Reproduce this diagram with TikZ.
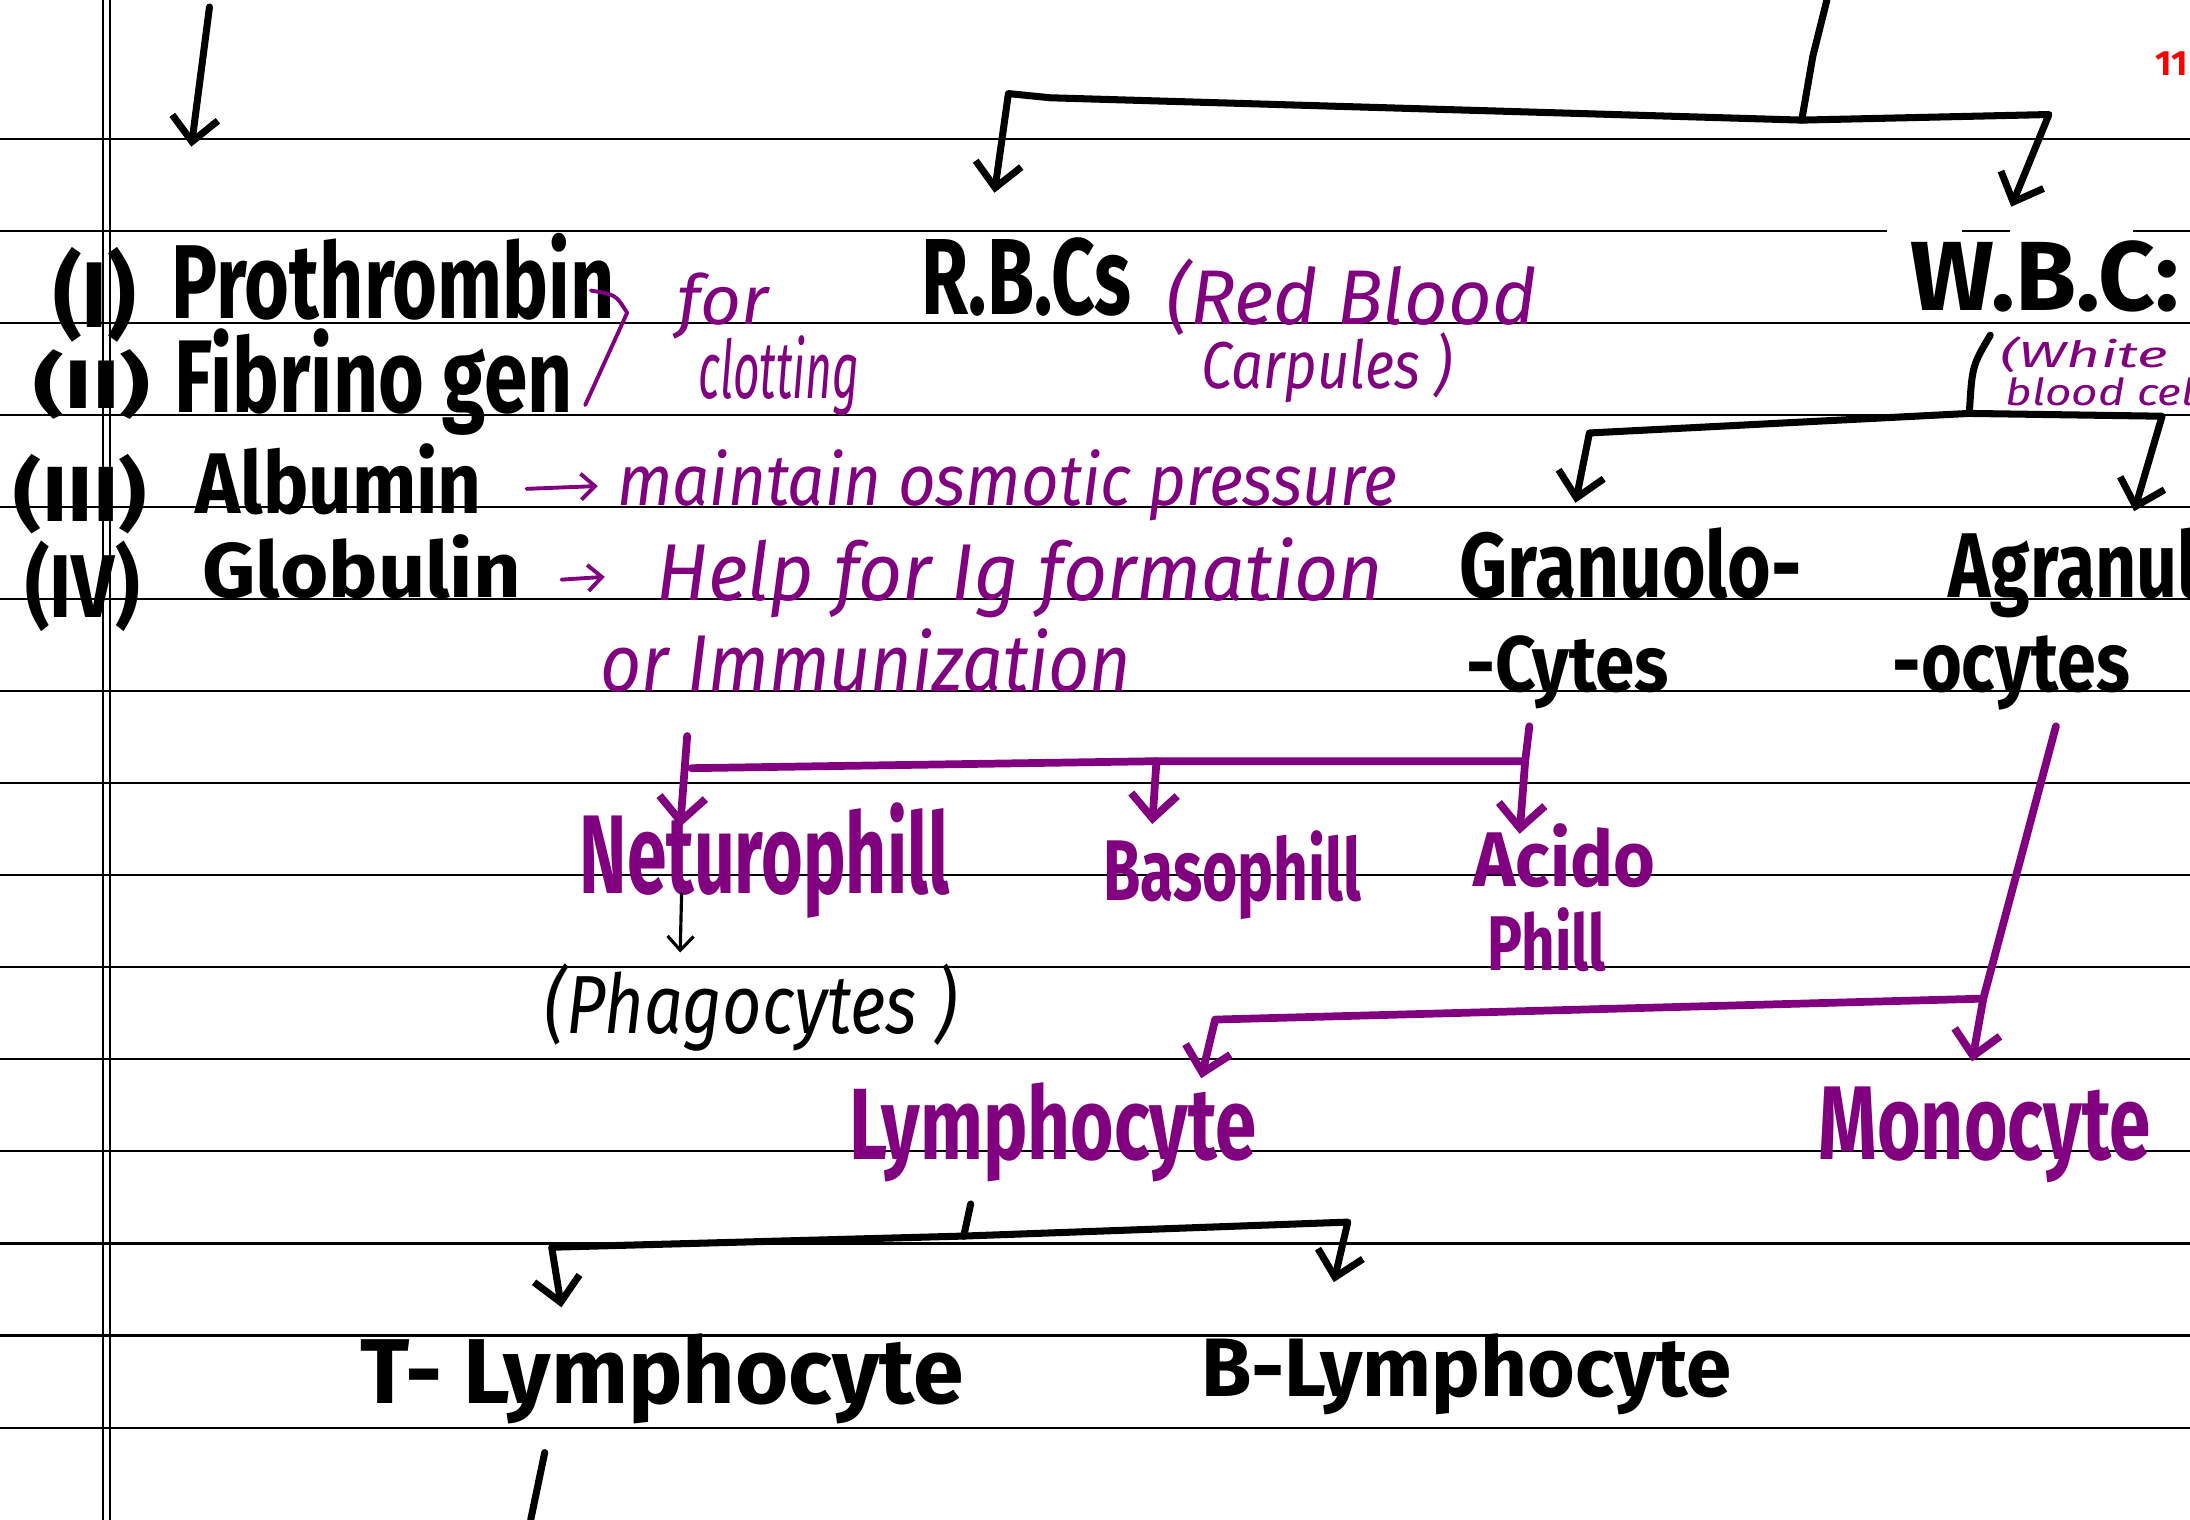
\documentclass[tikz,border=0pt]{standalone}
\usepackage{fontspec}
\setmainfont{Fira Sans}
\usetikzlibrary{arrows.meta}
\definecolor{pen}{RGB}{128,0,128}
\definecolor{pagenum}{RGB}{255,0,0}
% one unit of the drawing grid
\newlength\sx
\setlength\sx{0.013967cm}
% word squeezed to width #1 and height #2 above the baseline (grid units)
\newcommand\hw[3]{\resizebox{#1\sx}{#2\sx}{#3}}
% word squeezed to width #1 and total height #2 (grid units)
\newcommand\hwt[3]{\resizebox*{#1\sx}{#2\sx}{#3}}

\begin{document}
\begin{tikzpicture}[x=0.013967cm,y=-0.013967cm,
  rule/.style={line width=0.6pt,black},
  inkline/.style={line width=2pt,line cap=round,line join=round,black},
  penline/.style={line width=2.2pt,line cap=round,line join=round,pen},
  thinpen/.style={line width=0.9pt,line cap=round,line join=round,pen},
  thinink/.style={line width=0.9pt,line cap=round,line join=round,black},
  headed/.style={-{Straight Barb[length=2.4mm,width=4.6mm]}},
  smallhead/.style={-{Straight Barb[length=1.4mm,width=2.6mm]}},
  word/.style={anchor=base west,inner sep=0pt,outer sep=0pt},
  paren/.style={anchor=north west,inner sep=0pt,outer sep=0pt,font=\bfseries,text=black},
  bigink/.style={word,font=\bfseries,text=black},
  bigpen/.style={word,font=\bfseries,text=pen},
  notepen/.style={word,font=\itshape,text=pen},
  noteink/.style={word,font=\itshape,text=black}]

% page
\fill[white] (0,0) rectangle (1568,1088);
\useasboundingbox (0,0) rectangle (1568,1088);

% ruled lines
\foreach \k in {0,2,3,...,14}
  \draw[rule] (0,{99.5+65.9*\k}) -- (1568,{99.5+65.9*\k});
\draw[rule] (0,165.4) -- (1351,165.4);
\draw[rule] (1405,165.4) -- (1439,165.4);
\draw[rule] (1527,165.4) -- (1568,165.4);
% margin
\draw[rule] (74,0) -- (74,1088);
\draw[rule] (78.5,0) -- (78.5,1088);

% page number
\node[anchor=base east,inner sep=0pt,font=\bfseries,text=pagenum] (pg) at (1567,54) {\hw{23}{17}{11}};

% plasma proteins
\node[paren] (p1) at (38,177) {\hwt{60}{68}{(I)}};
\node[bigink] (pro) at (123,228) {\hw{317}{61}{Prothrombin}};
\node[paren] (p2) at (24,250) {\hwt{84}{50}{(II)}};
\node[bigink] (fib) at (125,295) {\hw{285}{60}{Fibrino gen}};
\node[paren] (p3) at (10,325) {\hwt{95}{57}{(III)}};
\node[bigink] (alb) at (140,368) {\hw{205}{50}{Albumin}};
\node[paren] (p4) at (18,387) {\hwt{82}{65}{(IV)}};
\node[bigink] (glo) at (145,428) {\hw{228}{45}{Globulin}};

% notes on the proteins
\coordinate (br1) at (423,208);
\coordinate (br2) at (449,224);
\coordinate (br3) at (419,290);
\draw[thinpen,line width=1.1pt] (br1) .. controls (441,211) .. (br2) -- (br3);
\node[notepen] (for) at (485,232) {\hw{65}{37}{for}};
\node[notepen] (clot) at (500,285) {\hw{115}{45}{clotting}};

\coordinate (m0) at (377,350);
\coordinate (m1) at (428,348);
\node[notepen] (osm) at (442,362) {\hw{558}{40}{maintain osmotic pressure}};
\draw[thinpen,line width=1.1pt,smallhead] (m0) -- (m1);

\coordinate (h0) at (402,415);
\coordinate (h1) at (433,413);
\node[notepen] (ig) at (470,430) {\hw{520}{45}{Help for Ig formation}};
\draw[thinpen,line width=1.1pt,smallhead] (h0) -- (h1);
\node[notepen] (imm) at (430,495) {\hw{380}{45}{or Immunization}};

% top arrow at the left
\coordinate (tl0) at (150,5);
\coordinate (tl1) at (137,105);
\draw[inkline,headed] (tl0) -- (tl1);

% blood cells
\node[bigink] (rbc) at (660,225) {\hw{150}{55}{R.B.Cs}};
\node[notepen] (red) at (835,232) {\hw{265}{47}{(Red Blood}};
\node[notepen] (carp) at (860,278) {\hw{180}{40}{Carpules )}};
\node[bigink] (wbc) at (1368,222) {\hw{192}{50}{W.B.C:}};
\node[notepen] (white) at (1432,263) {\hw{120}{22}{(White}};
\node[notepen] (cells) at (1436,290) {\hw{160}{20}{blood cells}};

\coordinate (top0) at (1308,0);
\coordinate (jt) at (1290,86);
\coordinate (rbcL) at (722,67);
\coordinate (rbcK) at (752,70);
\coordinate (wbcR) at (1467,82);
\coordinate (rbcTip) at (712,138);
\coordinate (wbcTip) at (1440,148);
\draw[inkline] (top0) -- (1298,40) -- (jt);
\draw[inkline,headed] (jt) -- (rbcK) -- (rbcL) -- (rbcTip);
\draw[inkline,headed] (jt) -- (wbcR) -- (wbcTip);

% white cell groups
\node[bigink] (gra) at (1045,428) {\hw{245}{50}{Granuolo-}};
\node[bigink] (gra2) at (1050,495) {\hw{145}{40}{-Cytes}};
\node[bigink] (agr) at (1395,428) {\hw{230}{50}{Agranulo-}};
\node[bigink] (agr2) at (1355,495) {\hw{170}{40}{-ocytes}};

\coordinate (w0) at (1425,240);
\coordinate (jw) at (1410,296);
\coordinate (gL) at (1138,310);
\coordinate (aR) at (1548,298);
\coordinate (gTip) at (1128,360);
\coordinate (aTip) at (1528,366);
\draw[inkline] (w0) .. controls (1412,262) .. (jw);
\draw[inkline,headed] (jw) -- (gL) -- (gTip);
\draw[inkline,headed] (jw) -- (aR) -- (aTip);

% granulocytes
\node[bigpen] (neu) at (415,640) {\hw{265}{65}{Neturophill}};
\node[bigpen] (bas) at (790,645) {\hw{185}{50}{Basophill}};
\node[bigpen] (aci) at (1055,635) {\hw{130}{45}{Acido}};
\node[bigpen] (aci2) at (1065,695) {\hw{85}{45}{Phill}};

\coordinate (g0) at (1095,520);
\coordinate (jg) at (1092,545);
\coordinate (nL) at (492,527);
\coordinate (nK) at (495,550);
\coordinate (bJ) at (828,545);
\coordinate (nTip) at (487,592);
\coordinate (bTip) at (825,590);
\coordinate (aTip2) at (1088,597);
\draw[penline] (g0) -- (jg) -- (bJ) -- (nK);
\draw[penline,headed] (nL) -- (nTip);
\draw[penline,headed] (bJ) -- (bTip);
\draw[penline,headed] (jg) -- (aTip2);

% phagocytes
\coordinate (ph0) at (488,640);
\coordinate (ph1) at (487,682);
\node[noteink] (pha) at (390,740) {\hw{295}{50}{(Phagocytes )}};
\draw[thinink,smallhead] (ph0) -- (ph1);

% agranulocytes
\node[bigpen] (lym) at (608,830) {\hw{292}{55}{Lymphocyte}};
\node[bigpen] (mono) at (1302,830) {\hw{238}{52}{Monocyte}};

\coordinate (a0) at (1472,520);
\coordinate (ja) at (1420,715);
\coordinate (lL) at (870,730);
\coordinate (lymTip) at (860,772);
\coordinate (monoTip) at (1412,760);
\draw[penline,headed] (a0) -- (ja) -- (monoTip);
\draw[penline,headed] (ja) -- (lL) -- (lymTip);

% lymphocytes
\node[bigink] (tly) at (258,1005) {\hw{432}{50}{T- Lymphocyte}};
\node[bigink] (bly) at (860,1000) {\hw{380}{45}{B-Lymphocyte}};

\coordinate (l0) at (695,862);
\coordinate (jl) at (690,885);
\coordinate (tL) at (395,893);
\coordinate (bR) at (965,875);
\coordinate (tTip) at (402,936);
\coordinate (bTip2) at (955,918);
\draw[inkline] (l0) -- (jl);
\draw[inkline,headed] (jl) -- (tL) -- (tTip);
\draw[inkline,headed] (jl) -- (bR) -- (bTip2);

% stroke below
\coordinate (s0) at (390,1040);
\coordinate (s1) at (380,1088);
\draw[inkline] (s0) -- (s1);
\end{tikzpicture}
\end{document}
